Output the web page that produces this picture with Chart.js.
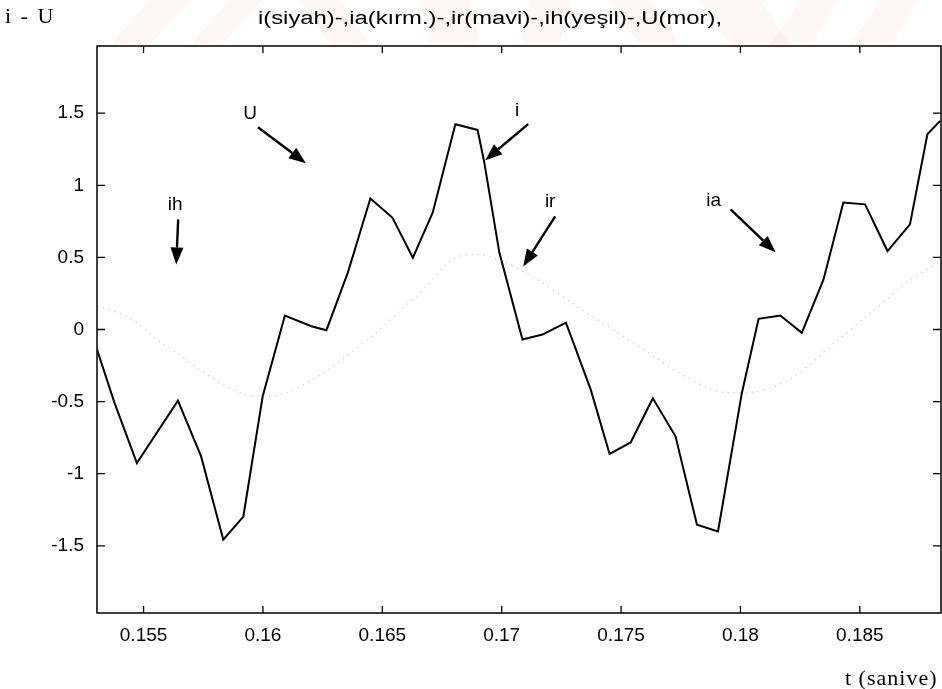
<!DOCTYPE html>
<html>
<head>
<meta charset="utf-8">
<script src="https://cdn.jsdelivr.net/npm/chart.js@4.4.0/dist/chart.umd.min.js"></script>
<style>
  html, body { margin: 0; padding: 0; background: #fff; }
  #wrap { width: 942px; height: 689px; }
</style>
</head>
<body>
<div id="wrap"><canvas id="chart" width="942" height="689"></canvas></div>
<script>
// i (black) current
const tI = [0.15305, 0.15378, 0.15472, 0.15644, 0.15741, 0.15834, 0.15918, 0.15999, 0.16092, 0.16203,
  0.16266, 0.16356, 0.16450, 0.16542, 0.16628, 0.16711, 0.16806, 0.16899, 0.16927, 0.16990,
  0.17087, 0.17171, 0.17269, 0.17373, 0.17452, 0.17540, 0.17633, 0.17728, 0.17818, 0.17906,
  0.18006, 0.18076, 0.18167, 0.18257, 0.18348, 0.18431, 0.18522, 0.18616, 0.18710, 0.18783, 0.18836];
const iVals = [-0.139, -0.507, -0.926, -0.493, -0.880, -1.458, -1.297, -0.463, 0.097, 0.023,
  -0.005, 0.396, 0.908, 0.776, 0.498, 0.810, 1.424, 1.384, 1.160, 0.535,
  -0.069, -0.035, 0.047, -0.417, -0.863, -0.783, -0.477, -0.741, -1.354, -1.401,
  -0.440, 0.074, 0.097, -0.023, 0.347, 0.880, 0.868, 0.544, 0.729, 1.354, 1.447];

// faint dotted wave (U / other currents)
const tU = [0.15306, 0.15452, 0.15549, 0.15619, 0.15737, 0.15833, 0.15967, 0.16050, 0.16230, 0.16439,
  0.16585, 0.16669, 0.16809, 0.16898, 0.16990, 0.17157, 0.17324, 0.17504, 0.17658, 0.17784,
  0.17909, 0.18005, 0.18201, 0.18410, 0.18577, 0.18715, 0.18836];
const uVals = [0.167, 0.070, -0.060, -0.140, -0.280, -0.380, -0.463, -0.458, -0.324, -0.069,
  0.146, 0.273, 0.500, 0.520, 0.480, 0.340, 0.150, -0.040, -0.210, -0.340,
  -0.430, -0.440, -0.350, -0.070, 0.160, 0.350, 0.470];

const xTicks = [0.155, 0.16, 0.165, 0.17, 0.175, 0.18, 0.185];
const xTickLabels = ['0.155', '0.16', '0.165', '0.17', '0.175', '0.18', '0.185'];
const yTicks = [1.5, 1, 0.5, 0, -0.5, -1, -1.5];
const yTickLabels = ['1.5', '1', '0.5', '0', '-0.5', '-1', '-1.5'];

const titleText = 'i(siyah)-,ia(kırm.)-,ir(mavi)-,ih(yeşil)-,U(mor),';
const yTitle = 'i - U';
const xTitle = 't (sanive)';

// arrow labels: text anchor, arrow start, arrow tip (data units)
const notes = [
  { text: 'U',  tx: 0.15946, ty: 1.493, x0: 0.15979, y0: 1.403, x1: 0.16180, y1: 1.153 },
  { text: 'ih', tx: 0.15632, ty: 0.868, x0: 0.15645, y0: 0.764, x1: 0.15637, y1: 0.451 },
  { text: 'i',  tx: 0.17065, ty: 1.514, x0: 0.17111, y0: 1.424, x1: 0.16931, y1: 1.174 },
  { text: 'ir', tx: 0.17203, ty: 0.889, x0: 0.17224, y0: 0.785, x1: 0.17090, y1: 0.4375 },
  { text: 'ia', tx: 0.17888, ty: 0.896, x0: 0.17959, y0: 0.833, x1: 0.18147, y1: 0.535 }
];

const SANS = '"Liberation Sans", Arial, sans-serif';
const SERIF = '"Liberation Serif", "Times New Roman", serif';

const decor = {
  id: 'decor',
  beforeDraw(chart) {
    const ctx = chart.ctx;
    // faint pink watermark bands above the plot
    ctx.save();
    ctx.beginPath();
    ctx.rect(0, 0, 942, 45);
    ctx.clip();
    ctx.fillStyle = 'rgba(240,170,170,0.09)';
    const bands = [[150, 190, 110, 150], [230, 262, 190, 222], [300, 340, 330, 370], [420, 470, 430, 480],
      [530, 570, 520, 560], [610, 650, 640, 680], [700, 760, 730, 790], [800, 840, 770, 810], [880, 920, 850, 890]];
    bands.forEach(b => {
      ctx.beginPath();
      ctx.moveTo(b[0], 0); ctx.lineTo(b[1], 0); ctx.lineTo(b[3], 45); ctx.lineTo(b[2], 45);
      ctx.closePath();
      ctx.fill();
    });
    ctx.restore();
  },
  afterDraw(chart) {
    const ctx = chart.ctx;
    const a = chart.chartArea;
    const xs = chart.scales.x, ys = chart.scales.y;
    ctx.save();
    // frame
    ctx.strokeStyle = '#000';
    ctx.lineWidth = 1.5;
    ctx.strokeRect(a.left, a.top, a.right - a.left, a.bottom - a.top);
    // inward ticks
    ctx.lineWidth = 1.3;
    ctx.beginPath();
    xTicks.forEach(v => {
      const px = xs.getPixelForValue(v);
      ctx.moveTo(px, a.bottom); ctx.lineTo(px, a.bottom - 7);
      ctx.moveTo(px, a.top); ctx.lineTo(px, a.top + 7);
    });
    yTicks.forEach(v => {
      const py = ys.getPixelForValue(v);
      ctx.moveTo(a.left, py); ctx.lineTo(a.left + 8, py);
      ctx.moveTo(a.right, py); ctx.lineTo(a.right - 8, py);
    });
    ctx.stroke();

    // arrows with labels
    ctx.fillStyle = '#000';
    ctx.font = '19px ' + SANS;
    ctx.textAlign = 'center';
    ctx.textBaseline = 'middle';
    notes.forEach(n => {
      ctx.fillText(n.text, xs.getPixelForValue(n.tx), ys.getPixelForValue(n.ty));
      const x0 = xs.getPixelForValue(n.x0), y0 = ys.getPixelForValue(n.y0);
      const x1 = xs.getPixelForValue(n.x1), y1 = ys.getPixelForValue(n.y1);
      const ang = Math.atan2(y1 - y0, x1 - x0);
      const hl = 17, hw = 6.5;
      const bx = x1 - hl * Math.cos(ang), by = y1 - hl * Math.sin(ang);
      ctx.lineWidth = 2.4;
      ctx.beginPath();
      ctx.moveTo(x0, y0); ctx.lineTo(bx, by);
      ctx.stroke();
      ctx.beginPath();
      ctx.moveTo(x1, y1);
      ctx.lineTo(bx + hw * Math.sin(ang), by - hw * Math.cos(ang));
      ctx.lineTo(bx - hw * Math.sin(ang), by + hw * Math.cos(ang));
      ctx.closePath();
      ctx.fill();
    });

    // title, squeezed to the width it has in the scan
    ctx.font = '18px ' + SANS;
    const w = ctx.measureText(titleText).width;
    ctx.save();
    ctx.translate(490, 19);
    ctx.scale(464 / w, 1);
    ctx.fillText(titleText, 0, 0);
    ctx.restore();

    // axis names in serif
    ctx.font = '22px ' + SERIF;
    ctx.textAlign = 'left';
    ctx.letterSpacing = '2px';
    ctx.fillText(yTitle, 5, 17);
    ctx.letterSpacing = '1px';
    ctx.fillText(xTitle, 845, 679);
    ctx.restore();
  }
};

new Chart(document.getElementById('chart').getContext('2d'), {
  type: 'line',
  data: {
    datasets: [
      {
        label: 'U',
        data: tU.map((t, k) => ({ x: t, y: uVals[k] })),
        borderColor: 'rgba(150,150,150,0.6)',
        borderWidth: 1.2,
        borderDash: [1, 5],
        pointRadius: 0,
        cubicInterpolationMode: 'monotone'
      },
      {
        label: 'i',
        data: tI.map((t, k) => ({ x: t, y: iVals[k] })),
        borderColor: '#000',
        borderWidth: 2,
        pointRadius: 0,
        tension: 0
      }
    ]
  },
  options: {
    responsive: false,
    animation: false,
    layout: { padding: { top: 46, right: 1, left: 0, bottom: 0 } },
    plugins: { legend: { display: false }, tooltip: { enabled: false } },
    scales: {
      x: {
        type: 'linear',
        min: 0.15305,
        max: 0.1884,
        afterFit(scale) { scale.height = 76; },
        afterBuildTicks(scale) { scale.ticks = xTicks.map(v => ({ value: v })); },
        grid: { display: false, drawTicks: false },
        border: { display: false },
        ticks: {
          padding: 11,
          maxRotation: 0,
          autoSkip: false,
          color: '#000',
          font: { family: SANS, size: 19 },
          callback: (v) => xTickLabels[xTicks.indexOf(v)] ?? ''
        }
      },
      y: {
        type: 'linear',
        min: -1.966,
        max: 1.966,
        afterFit(scale) { scale.width = 97; },
        afterBuildTicks(scale) { scale.ticks = yTicks.map(v => ({ value: v })); },
        grid: { display: false, drawTicks: false },
        border: { display: false },
        ticks: {
          padding: 13,
          autoSkip: false,
          color: '#000',
          font: { family: SANS, size: 19 },
          callback: (v) => yTickLabels[yTicks.indexOf(v)] ?? ''
        }
      }
    }
  },
  plugins: [decor]
});
</script>
</body>
</html>
